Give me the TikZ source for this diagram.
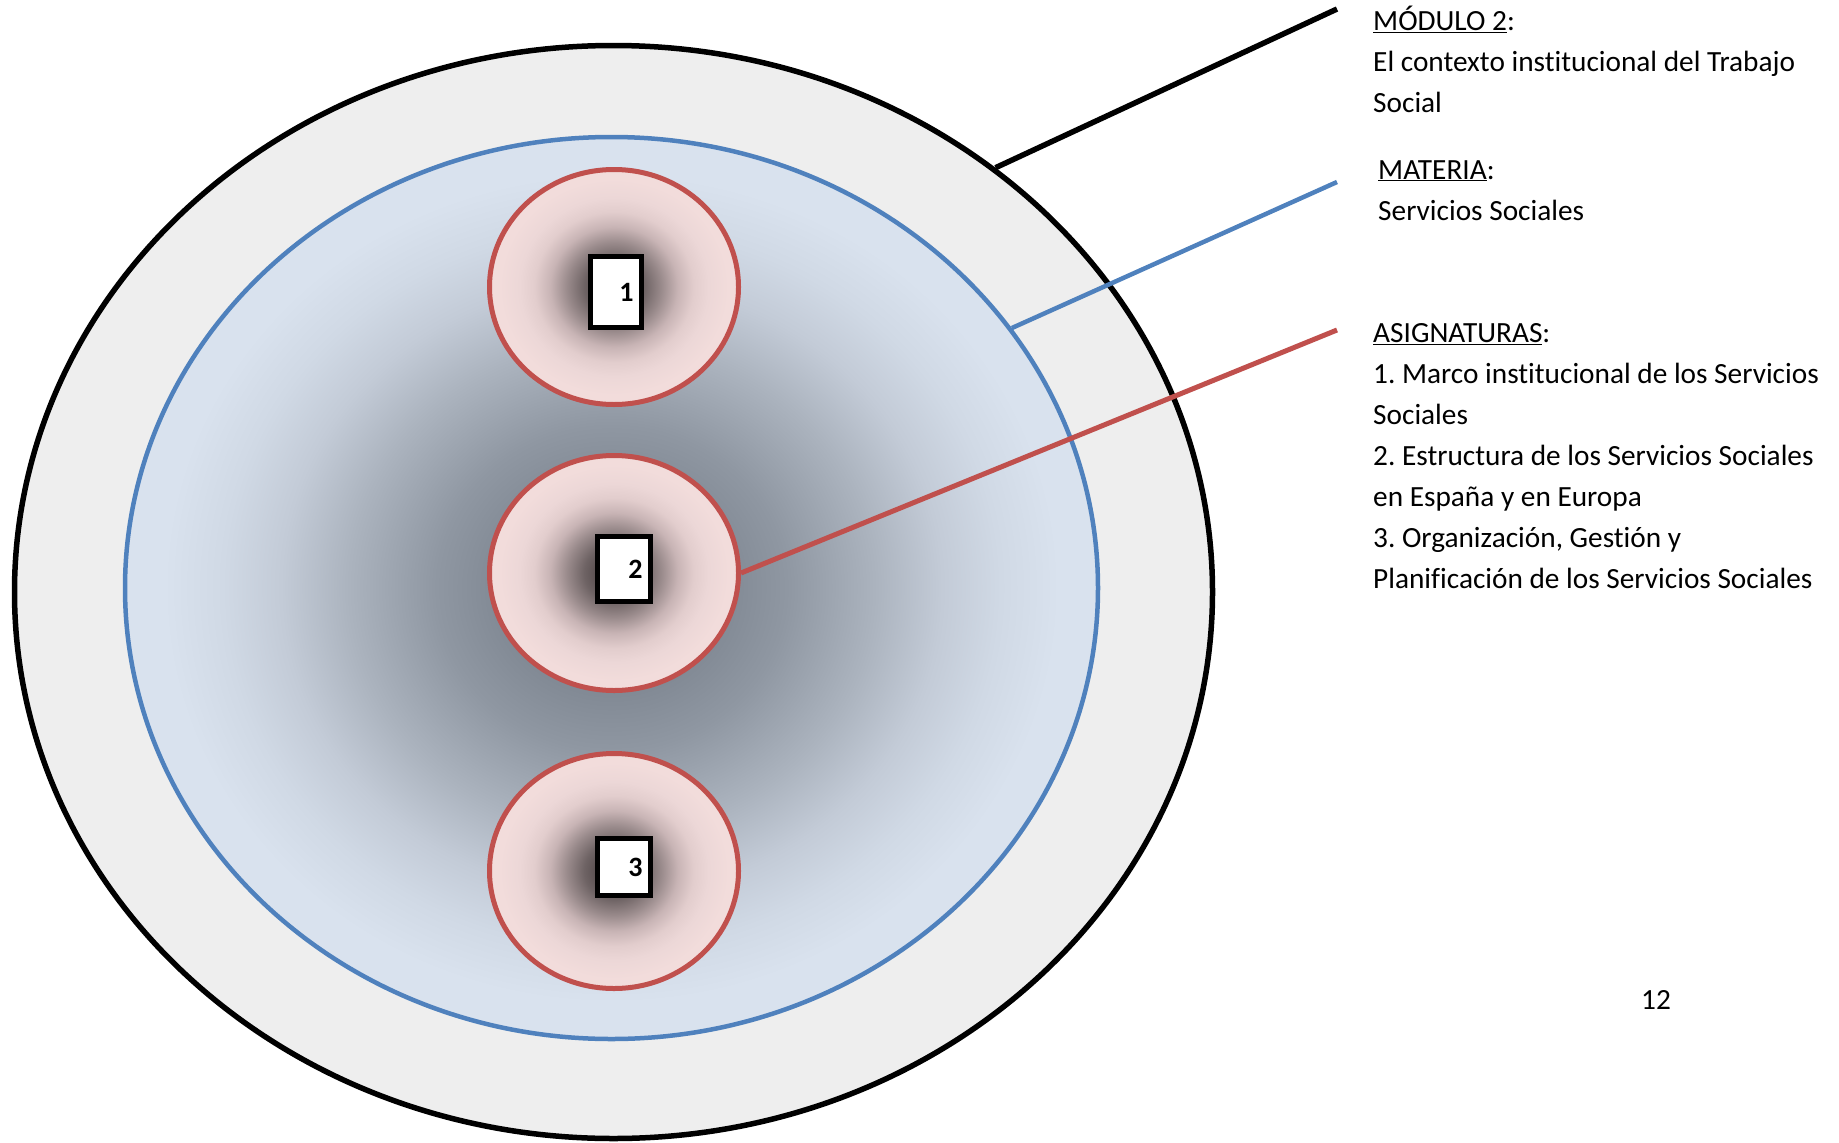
\documentclass[tikz,border=0pt]{standalone}
\usepackage{fontspec}
\setmainfont{Carlito}[Ligatures=NoCommon]
\usepackage{tikz}
\usetikzlibrary{positioning,shapes.geometric}
\frenchspacing

\definecolor{modgray}{HTML}{EEEEEE}
\definecolor{matblue}{HTML}{4F81BD}
\definecolor{asigred}{HTML}{C0504D}
% stops of the blue glow
\definecolor{blueA}{HTML}{78808B}
\definecolor{blueB}{HTML}{7E8691}
\definecolor{blueC}{HTML}{8F97A2}
\definecolor{blueD}{HTML}{ABB3BE}
\definecolor{blueE}{HTML}{C3CBD7}
\definecolor{blueF}{HTML}{D0D9E5}
\definecolor{blueG}{HTML}{D9E2EE}
% stops of the red glow
\definecolor{redA}{HTML}{3F3536}
\definecolor{redB}{HTML}{6E6364}
\definecolor{redC}{HTML}{9A8B8C}
\definecolor{redD}{HTML}{C8B4B5}
\definecolor{redE}{HTML}{E2CDCD}
\definecolor{redF}{HTML}{ECD7D7}
\definecolor{redG}{HTML}{F2DCDB}

\pgfdeclareradialshading{materiashade}{\pgfpoint{0bp}{0bp}}{%
    color(0bp)=(blueA); color(5bp)=(blueB); color(9bp)=(blueC);
    color(13.5bp)=(blueD); color(17bp)=(blueE); color(20bp)=(blueF);
    color(23bp)=(blueG); color(50bp)=(blueG)}
\pgfdeclareradialshading{asigshade}{\pgfpoint{0bp}{0bp}}{%
    color(0bp)=(redA); color(6bp)=(redB); color(9.5bp)=(redC);
    color(12.8bp)=(redD); color(16bp)=(redE); color(19bp)=(redF);
    color(23bp)=(redG); color(50bp)=(redG)}

\tikzset{
    modulo/.style={
        ellipse,
        draw=black, line width=5.5pt,
        fill=modgray,
        minimum width=1198pt,
        minimum height=1093pt,
        inner sep=0pt
    },
    materia/.style={
        ellipse,
        draw=matblue, line width=4.5pt,
        shade, shading=materiashade,
        minimum width=973pt,
        minimum height=902pt,
        inner sep=0pt
    },
    asig/.style={
        ellipse,
        draw=asigred, line width=5pt,
        shade, shading=asigshade,
        minimum width=249pt,
        minimum height=235pt,
        inner sep=0pt
    },
    numbox/.style={
        rectangle,
        draw=black, line width=5pt,
        fill=white,
        inner xsep=8pt, inner ysep=0pt,
        align=right,
        font={\fontsize{28pt}{30pt}\selectfont\bfseries}
    },
    leader/.style={draw, line width=5pt},
    infotext/.style={
        anchor=north west,
        align=left,
        inner sep=0pt,
        font={\fontsize{29.3pt}{41pt}\selectfont}
    },
}

\begin{document}
\begin{tikzpicture}[x=1pt,y=-1pt]
    \useasboundingbox (0,0) rectangle (1839,1143);

    % module, subject area and the three courses
    \node[modulo]  (mod) at (613.5,592) {};
    \node[materia] (mat) at (611.5,588) {};

    \node[asig]                     (asig1) at (614,287) {};
    \node[asig, below=46pt of asig1] (asig2) {};
    \node[asig, below=58pt of asig2] (asig3) {};

    \node[numbox, text width=35pt, minimum height=71pt] (num1) at (616,292) {1};
    \node[numbox, text width=37pt, minimum height=65pt] (num2) at (624,569) {2};
    \node[numbox, text width=37pt, minimum height=57pt] (num3) at (624,867) {3};

    % free ends of the leader lines
    \coordinate (modend)  at (1337,9);
    \coordinate (matend)  at (1337,182);
    \coordinate (asigend) at (1337,330);

    \draw[leader, black, line width=5.5pt] (mod.48.5) -- (modend);
    \draw[leader, matblue, line width=4.5pt] (mat.33.3) -- (matend);
    \draw[leader, asigred] (asig2.east) -- (asigend);

    % texts on the right
    \node[infotext] (modtxt) at (1373,6)
        {\underline{MÓDULO 2}:\\El contexto institucional del Trabajo\\Social};
    \node[infotext] (mattxt) at (1378,160)
        {\underline{MATERIA}:\\Servicios Sociales};
    \node[infotext] (asigtxt) at (1373,323)
        {\underline{ASIGNATURAS}:\\1. Marco institucional de los Servicios\\Sociales\\%
         2. Estructura de los Servicios Sociales\\en España y en Europa\\%
         3. Organización, Gestión y\\Planificación de los Servicios Sociales};

    \node[anchor=base, font={\fontsize{29.3pt}{41pt}\selectfont}] (pagenum) at (1656,1009) {12};

\end{tikzpicture}
\end{document}
